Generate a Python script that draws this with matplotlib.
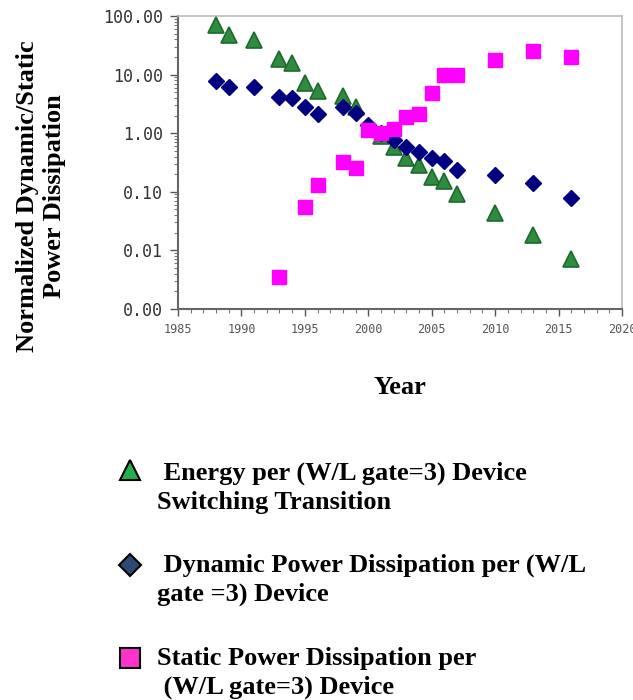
import matplotlib

matplotlib.use("Agg")
import matplotlib.pyplot as plt
from matplotlib.lines import Line2D
from matplotlib.ticker import LogLocator, MultipleLocator, FixedLocator, NullFormatter

# Energy per device switching transition (green triangles)
energy_years = [1988, 1989, 1991, 1993, 1994, 1995, 1996, 1998, 1999, 2001, 2002,
                2003, 2004, 2005, 2006, 2007, 2010, 2013, 2016]
energy_vals = [70, 47, 39, 18.5, 16, 7.2, 5.2, 4.3, 2.8, 0.9, 0.58,
               0.38, 0.29, 0.18, 0.15, 0.092, 0.044, 0.018, 0.0071]

# Dynamic power per device (navy diamonds)
dyn_years = [1988, 1989, 1991, 1993, 1994, 1995, 1996, 1998, 1999, 2000, 2001,
             2002, 2003, 2004, 2005, 2006, 2007, 2010, 2013, 2016]
dyn_vals = [7.8, 6.1, 6.1, 4.2, 4.0, 2.8, 2.1, 2.8, 2.2, 1.38, 1.0,
            0.76, 0.58, 0.48, 0.38, 0.33, 0.24, 0.19, 0.14, 0.078]

# Static power per device (magenta squares)
stat_years = [1993, 1995, 1996, 1998, 1999, 2000, 2001, 2002, 2003, 2004, 2005,
              2006, 2007, 2010, 2013, 2016]
stat_vals = [0.0035, 0.055, 0.13, 0.32, 0.25, 1.12, 1.0, 1.2, 1.9, 2.1, 4.9,
             10, 10, 17.7, 25, 20]

y_ticks = [0.001, 0.01, 0.1, 1, 10, 100]
y_ticklabels = ["0.00", "0.01", "0.10", "1.00", "10.00", "100.00"]
x_ticks = [1985, 1990, 1995, 2000, 2005, 2010, 2015, 2020]

legend_labels = [
    " Energy per (W/L gate=3) Device\nSwitching Transition",
    " Dynamic Power Dissipation per (W/L\ngate =3) Device",
    "Static Power Dissipation per\n (W/L gate=3) Device",
]

W, H = 633, 700
fig = plt.figure(figsize=(W / 100, H / 100), dpi=100)
ax = fig.add_axes([178 / W, 1 - 309 / H, (622 - 178) / W, (309 - 16) / H])

ax.plot(energy_years, energy_vals, linestyle="none", marker="^", markersize=11,
        markerfacecolor="#2e8b3f", markeredgecolor="#1d6b2c", markeredgewidth=1.2, zorder=3)
ax.plot(dyn_years, dyn_vals, linestyle="none", marker="D", markersize=8,
        markerfacecolor="#000080", markeredgecolor="#000080", zorder=4)
ax.plot(stat_years, stat_vals, linestyle="none", marker="s", markersize=10,
        markerfacecolor="#ff00ff", markeredgecolor="#ff00ff", zorder=5)

ax.set_yscale("log")
ax.set_ylim(0.001, 100)
ax.set_xlim(1985, 2020)
ax.yaxis.set_major_locator(FixedLocator(y_ticks))
ax.set_yticklabels(y_ticklabels)
ax.yaxis.set_minor_locator(LogLocator(base=10, subs=range(2, 10), numticks=20))
ax.yaxis.set_minor_formatter(NullFormatter())
ax.xaxis.set_major_locator(FixedLocator(x_ticks))
ax.set_xticklabels([str(x) for x in x_ticks])
ax.xaxis.set_minor_locator(MultipleLocator(1))

ax.tick_params(axis="y", which="major", length=6, width=1, color="#555555",
               labelsize=12, labelcolor="#333333", pad=5)
ax.tick_params(axis="y", which="minor", length=3, width=0.8, color="#777777")
ax.tick_params(axis="x", which="major", length=5, width=1, color="#555555",
               labelsize=8.5, labelcolor="#555555", pad=5)
ax.tick_params(axis="x", which="minor", length=3, width=0.8, color="#777777")
for lab in ax.get_yticklabels() + ax.get_xticklabels():
    lab.set_family("DejaVu Sans Mono")

for side in ("left", "bottom"):
    ax.spines[side].set_color("#666666")
    ax.spines[side].set_linewidth(1.5)
for side in ("top", "right"):
    ax.spines[side].set_color("#bbbbbb")
    ax.spines[side].set_linewidth(1.2)

serif = "Liberation Serif"
fig.text(41 / W, 1 - 196 / H, "Normalized Dynamic/Static\nPower Dissipation",
         rotation=90, ha="center", va="center", multialignment="center",
         family=serif, weight="bold", fontsize=19, linespacing=1.22)
fig.text(400 / W, 1 - 388 / H, "Year", ha="center", va="center",
         family=serif, weight="bold", fontsize=19)

# legend drawn by hand so the marker sits beside the first line
handles = [
    dict(marker="^", markersize=14, markerfacecolor="#22b04a", markeredgecolor="black"),
    dict(marker="D", markersize=11, markerfacecolor="#2d4a72", markeredgecolor="black"),
    dict(marker="s", markersize=14, markerfacecolor="#ff33cc", markeredgecolor="black"),
]
marker_rows = [470, 565, 658]
text_rows = [472, 564, 657]
for ym, yt, lab, h in zip(marker_rows, text_rows, legend_labels, handles):
    fig.add_artist(Line2D([130 / W], [1 - ym / H], transform=fig.transFigure,
                          linestyle="none", markeredgewidth=1.5, **h))
    fig.text(157 / W, 1 - (yt - 10) / H, lab, ha="left", va="top",
             family=serif, weight="bold", fontsize=19, linespacing=1.3)

fig.savefig("out.png", dpi=100)
